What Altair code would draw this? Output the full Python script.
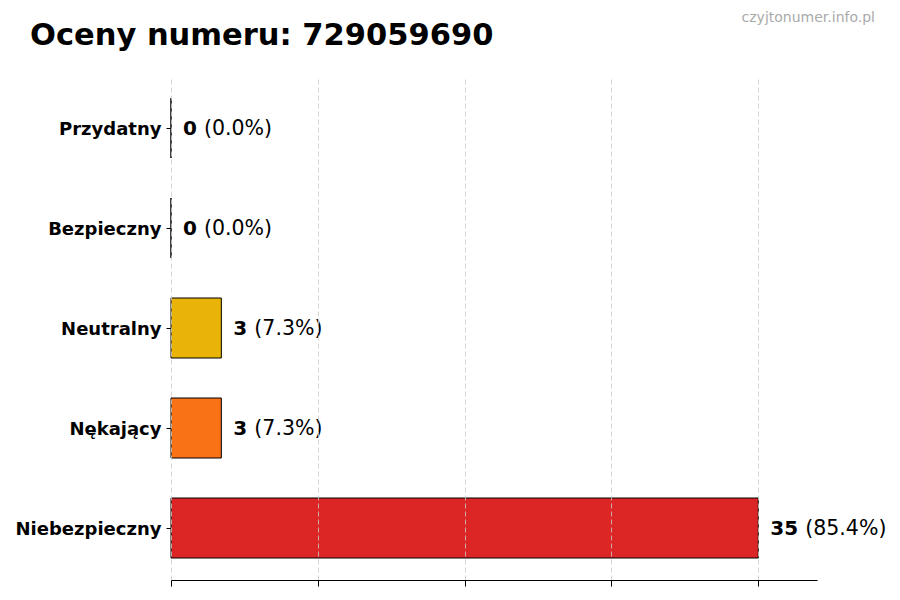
import altair as alt
import pandas as pd

categories = ["Przydatny", "Bezpieczny", "Neutralny", "Nękający", "Niebezpieczny"]
counts = [0, 0, 3, 3, 35]
colors = ["#16a34a", "#2563eb", "#eab308", "#f97316", "#dc2626"]
tick_values = [0, 8.75, 17.5, 26.25, 35]
title_text = "Oceny numeru: 729059690"
watermark = "czyjtonumer.info.pl"

total = sum(counts)
df = pd.DataFrame({
    "cat": categories,
    "count": counts,
    "num": [str(c) for c in counts],
    "pct": [f"({c / total * 100:.1f}%)" for c in counts],
})

FONT = "DejaVu Sans"

y_enc = alt.Y(
    "cat:N",
    sort=categories,
    scale=alt.Scale(paddingInner=0.4, paddingOuter=0.22),
    axis=alt.Axis(
        title=None, domain=False, ticks=True, tickSize=5, tickColor="black",
        labelFont=FONT, labelFontSize=18, labelFontWeight="bold",
        labelColor="black", labelPadding=5, grid=False, labelOffset=2,
    ),
)
x_scale = alt.Scale(domain=[0, 38.5], nice=False, zero=True)

base = alt.Chart(df)

bars = base.mark_bar(stroke="black", strokeWidth=1, opacity=1).encode(
    x=alt.X(
        "count:Q", scale=x_scale,
        axis=alt.Axis(
            title=None, values=tick_values, labels=False, tickSize=6,
            tickColor="black", domainColor="black", domainWidth=1.2,
            grid=True, gridColor="#cccccc", gridDash=[5, 3], gridWidth=0.8,
            zindex=1,
        ),
    ),
    y=y_enc,
    color=alt.Color("cat:N", scale=alt.Scale(domain=categories, range=colors), legend=None),
)

num_text = base.mark_text(
    align="left", baseline="middle", dx=12, dy=1, font=FONT, fontSize=20,
    fontWeight="bold", color="black",
).encode(x=alt.X("count:Q", scale=x_scale), y=alt.Y("cat:N", sort=categories), text="num:N")

pct_text_1 = base.transform_filter(alt.datum.count < 10).mark_text(
    align="left", baseline="middle", dx=33, dy=1, font=FONT, fontSize=20.5, color="black",
).encode(x=alt.X("count:Q", scale=x_scale), y=alt.Y("cat:N", sort=categories), text="pct:N")

pct_text_2 = base.transform_filter(alt.datum.count >= 10).mark_text(
    align="left", baseline="middle", dx=47, dy=1, font=FONT, fontSize=20.5, color="black",
).encode(x=alt.X("count:Q", scale=x_scale), y=alt.Y("cat:N", sort=categories), text="pct:N")

wm = alt.Chart(pd.DataFrame({"t": [watermark]})).mark_text(
    align="right", baseline="middle", font=FONT, fontSize=14, color="#aaaaaa",
).encode(x=alt.value(704), y=alt.value(-58), text="t:N")

chart = alt.layer(bars, num_text, pct_text_1, pct_text_2, wm).properties(
    width=646,
    height=504,
    background="white",
    padding={"left": 163, "top": 68, "right": 75, "bottom": 12},
    autosize=alt.AutoSizeParams(type="none"),
    title=alt.TitleParams(
        title_text, anchor="start", frame="group", font=FONT, fontSize=30.5,
        fontWeight="bold", color="black", dx=-141, dy=68, baseline="alphabetic", offset=4,
    ),
).configure_view(strokeWidth=0, stroke="transparent")

chart.save("out.html", embed_options={"renderer": "svg", "actions": False})
